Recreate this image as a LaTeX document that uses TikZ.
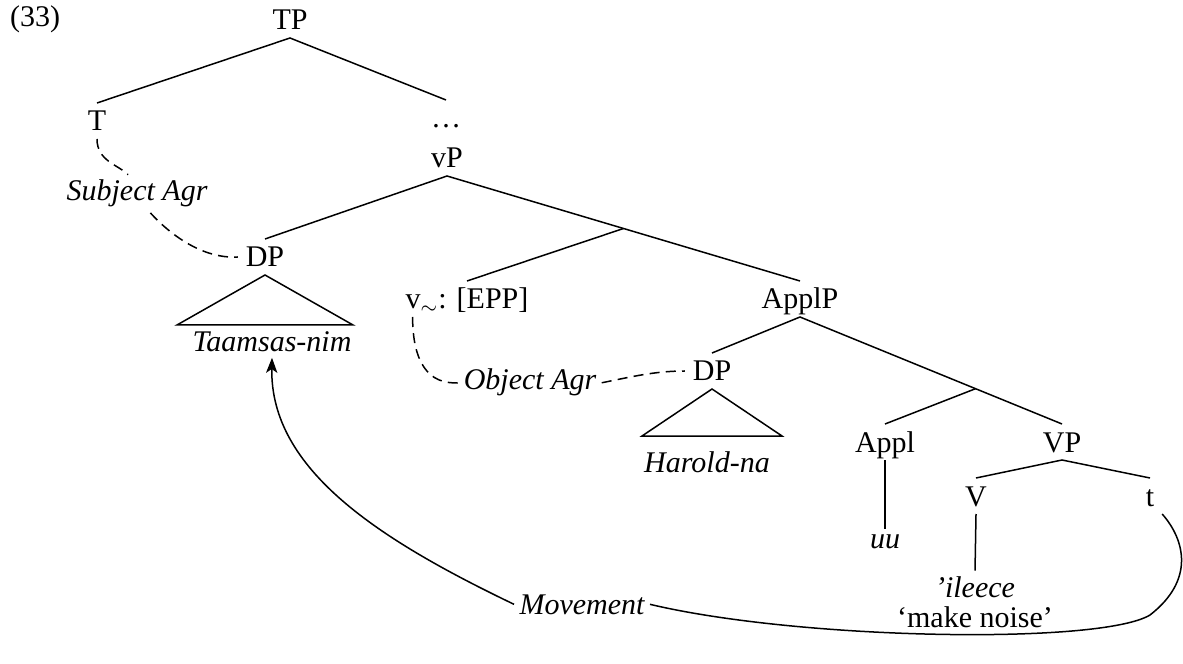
\documentclass[12pt,tikz,border=0pt]{standalone}
\usepackage{fontspec}
\setmainfont{Liberation Serif}
\usetikzlibrary{calc,arrows.meta}
\tikzset{
  cat/.style={anchor=base,inner sep=3pt,text height=8pt,text depth=0pt},
  lex/.style={anchor=base,inner sep=2pt,font=\itshape},
  gloss/.style={anchor=base,inner sep=2pt},
  branch/.style={line width=0.6pt},
  agree/.style={line width=0.6pt,dash pattern=on 4pt off 2.5pt},
  move/.style={line width=0.6pt},
}
\begin{document}
\begin{tikzpicture}[x=0.4pt,y=-0.4pt]
    \useasboundingbox (0,0) rectangle (1183,664);
    %% Example number
    \node[gloss] (num) at (35,27) {(33)};
    %% Tree nodes
    \node[cat] (TP) at (290,30) {TP};
    \node[cat] (T) at (97,131) {T};
    \node[cat] (dots) at (446,128) {\dots};
    \node[cat] (vP) at (447,168) {vP};
    \node[cat] (DP) at (265,267) {DP};
    \node[cat] (vepp) at (467,309) {v$_\sim$: [EPP]};
    \node[cat] (ApplP) at (800,309) {ApplP};
    \node[cat] (DPb) at (712,381) {DP};
    \node[cat] (Appl) at (885,452) {Appl};
    \node[cat] (VP) at (1062,452) {VP};
    \node[cat] (V) at (976,506) {V};
    \node[cat] (t) at (1150,506) {t};
    %% Words
    \node[lex] (taamsas) at (272,352) {Taamsas-nim};
    \node[lex] (harold) at (707,472) {Harold-na};
    \node[lex] (uu) at (885,548) {uu};
    \node[lex] (ileece) at (975,597) {'ileece};
    \node[gloss] (noise) at (975,627) {`make noise'};
    %% Relation labels
    \node[lex] (sagr) at (137,201) {Subject Agr};
    \node[lex] (oagr) at (530,390) {Object Agr};
    \node[lex] (mov) at (582,614) {Movement};
    %% Bar levels
    \coordinate (vbar) at ($(vP.south)!0.5!(ApplP.north)$);
    \coordinate (applbar) at ($(ApplP.south)!0.67!(VP.north)$);
    \coordinate (vfoot) at ($(vepp.south west)+(15,0)$);
    %% Branches
    \draw[branch] (T.north) -- (TP.south) -- (dots.north);
    \draw[branch] (DP.north) -- (vP.south) -- (ApplP.north);
    \draw[branch] (vbar) -- (vepp.north);
    \draw[branch] (DPb.north) -- (ApplP.south) -- (VP.north);
    \draw[branch] (applbar) -- (Appl.north);
    \draw[branch] (V.north) -- (VP.south) -- (t.north);
    \draw[branch] (Appl.south) -- (uu.north);
    \draw[branch] (V.south) -- (ileece.north);
    %% Triangles
    \draw[branch] (DP.south) -- ++(-88,50) -- ++(176,0) -- cycle;
    \draw[branch] (DPb.south) -- ++(-70,47) -- ++(140,0) -- cycle;
    %% Agreement
    \draw[agree] (T.south) .. controls +(0,22) and +(-10,-10) .. (sagr.115);
    \draw[agree] (sagr.-55) .. controls +(20,22) and +(-35,2) .. (DP.west);
    \draw[agree] (vfoot) .. controls +(0,45) and +(-30,2) .. (oagr.west);
    \draw[agree] (oagr.east) .. controls +(30,-6) and +(-30,0) .. (DPb.west);
    %% Movement
    \draw[move] (t.south east) .. controls (1185,540) and (1195,580) .. (1150,615)
        .. controls (1100,645) and (800,640) .. (mov.east);
    \draw[move,-{Stealth[length=6pt,width=4.5pt,inset=1.5pt]}] (mov.west) .. controls (380,540) and (270,470) .. (taamsas.south);
\end{tikzpicture}
\end{document}
